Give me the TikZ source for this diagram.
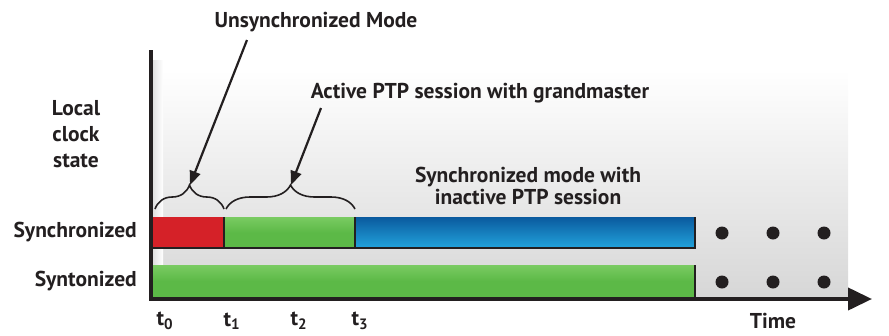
\documentclass[tikz,border=0pt]{standalone}
\usepackage{fontspec}
\setmainfont{PT Sans}
\usetikzlibrary{decorations.pathreplacing,arrows.meta}
\definecolor{axisc}{HTML}{231F20}
\definecolor{redbar}{HTML}{D52128}
\definecolor{greenbar}{HTML}{5CB947}
\definecolor{greentop}{HTML}{7ACB62}
\definecolor{bluetop}{HTML}{0A5A9E}
\definecolor{bluebot}{HTML}{22A3DC}
\begin{document}
\begin{tikzpicture}[x=1pt,y=-1pt,
  lbl/.style={font=\bfseries\fontsize{21.5}{25}\selectfont, text=axisc, inner sep=0pt},
  dotc/.style={circle, fill=axisc, minimum size=13pt, inner sep=0pt},
  pointer/.style={-{Triangle[length=14pt,width=11pt]}, line width=2.2pt, draw=axisc},
  bracec/.style={decorate, decoration={brace, amplitude=24pt, aspect=0.5}, line width=1.6pt, draw=axisc}]
\useasboundingbox (0,0) rectangle (889,335);
% background
\shade[top color=white, bottom color=black!16] (153,70) rectangle (848,300);
\shade[left color=black!12, right color=black!0] (153,60) rectangle (163,300);
% bars
\fill[redbar] (153,217) rectangle (224,248);
\shade[top color=greentop, bottom color=greenbar, middle color=greenbar] (224,217) rectangle (355,248);
\shade[top color=bluetop, bottom color=bluebot] (355,217) rectangle (695,248);
\draw[axisc, line width=1.3pt] (224,217) -- (224,248) (355,217) -- (355,248);
\draw[axisc, line width=1.5pt] (153,248) -- (695,248) -- (695,217);
\shade[top color=greentop, bottom color=greenbar, middle color=greenbar] (153,265) rectangle (695,297);
\draw[axisc, line width=1.5pt] (695,265) -- (695,297);
% axes
\coordinate (top) at (151,50);
\coordinate (org) at (151,299);
\coordinate (tip) at (872,299);
\draw[axisc, line width=4pt] (top) -- (org);
\draw[axisc, line width=4pt, -{Triangle[length=24pt,width=22pt]}] (149,299) -- (tip);
% dots
\foreach \x [count=\i] in {722,773,824}{
  \node[dotc] (da\i) at (\x,233) {};
  \node[dotc] (db\i) at (\x,282) {};
}
% braces
\coordinate (b1l) at (155,209);
\coordinate (b1r) at (224,209);
\coordinate (b2l) at (226,209);
\coordinate (b2r) at (355,209);
\draw[bracec] (b1l) -- (b1r);
\draw[bracec] (b2l) -- (b2r);
\coordinate (b1tip) at (190,185);
\coordinate (b2tip) at (291,185);
% labels
\node[lbl] (unsync) at (316,22) {Unsynchronized Mode};
\node[lbl] (active) at (480,93) {Active PTP session with grandmaster};
\node[lbl, align=center] (syncm) at (528,186) {Synchronized mode with\\[-3pt]inactive PTP session};
\node[lbl, align=center] (local) at (76,134) {Local\\[1pt]clock\\[1pt]state};
\node[lbl, anchor=east] (synch) at (137,232) {Synchronized};
\node[lbl, anchor=east] (synt) at (137,281) {Syntonized};
\node[lbl] (time) at (773,321) {Time};
\node[lbl] (t0) at (165,321) {t\textsubscript{0}};
\node[lbl] (t1) at (232,321) {t\textsubscript{1}};
\node[lbl] (t2) at (299,321) {t\textsubscript{2}};
\node[lbl] (t3) at (360,321) {t\textsubscript{3}};
% pointers
\coordinate (p1s) at (247,40);
\coordinate (p2s) at (321,108);
\draw[pointer] (p1s) -- (b1tip);
\draw[pointer] (p2s) -- (b2tip);
\end{tikzpicture}
\end{document}
